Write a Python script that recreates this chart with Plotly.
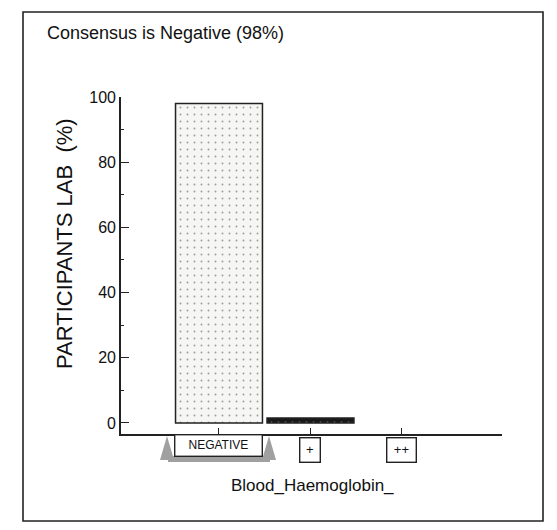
import plotly.graph_objects as go

categories = ["NEGATIVE", "+", "++"]
values = [98, 1.5, 0]
bar_colors = ["#f6f6f4", "#1a1a1a", "#1a1a1a"]
y_ticks = [0, 20, 40, 60, 80, 100]
y_minor = [10, 30, 50, 70, 90]
title_text = "Consensus is Negative (98%)"
x_title = "Blood_Haemoglobin_"
y_title = "PARTICIPANTS LAB  (%)"

FONT = "Liberation Sans, Arial, sans-serif"
OFF = 8  # page body margin of the browser
W, H = 557 - 2 * OFF, 530 - 2 * OFF
# layout positions given in window pixels, converted to figure pixels
L, R, T, B = 121 - OFF, 502 - OFF, 97 - OFF, 434 - OFF
PW, PH = R - L, B - T


def px(x):
    return (x - OFF - L) / PW


def py(y):
    return (B - (y - OFF)) / PH


fig = go.Figure()
fig.add_trace(go.Bar(
    x=categories, y=values,
    marker=dict(color=bar_colors, line=dict(color="#222", width=[1.5, 1.5, 0]),
                pattern=dict(shape=".", fgcolor="#dadada", size=7, solidity=0.06)),
    width=0.95,
))

annotations = [
    dict(text=title_text, xref="paper", yref="paper", x=px(45), y=py(33),
         xanchor="left", yanchor="middle", showarrow=False,
         font=dict(family=FONT, size=18, color="#111")),
    dict(text=x_title, xref="paper", yref="paper", x=px(312), y=py(485),
         xanchor="center", yanchor="middle", showarrow=False,
         font=dict(family=FONT, size=17, color="#111")),
    dict(text=y_title, xref="paper", yref="paper", x=px(64), y=py(244),
         xanchor="center", yanchor="middle", showarrow=False, textangle=-90,
         font=dict(family=FONT, size=22, color="#111")),
]
box_w = {"NEGATIVE": 84, "+": 17, "++": 26}
box_h = {"NEGATIVE": 18, "+": 21, "++": 21}
box_top = {"NEGATIVE": 434, "+": 437, "++": 437}
for c in categories:
    annotations.append(dict(
        text=c, xref="x", yref="paper", x=c, y=py(box_top[c]), yanchor="top",
        showarrow=False, bordercolor="#222", borderwidth=1.4, borderpad=1,
        width=box_w[c], height=box_h[c],
        bgcolor="white", font=dict(family=FONT, size=12 if c == "NEGATIVE" else 13, color="#111"),
    ))

shapes = [
    # outer frame
    dict(type="rect", xref="paper", yref="paper",
         x0=px(23), x1=px(543), y0=py(521), y1=py(12),
         line=dict(color="#222", width=1.6), layer="below"),
    # grey selection marks around the first category label
    dict(type="path", xref="paper", yref="paper",
         path=f"M {px(160)},{py(460)} L {px(167)},{py(436)} L {px(174)},{py(460)} Z",
         fillcolor="#a0a0a0", line=dict(width=0)),
    dict(type="path", xref="paper", yref="paper",
         path=f"M {px(262)},{py(460)} L {px(269)},{py(436)} L {px(276)},{py(460)} Z",
         fillcolor="#a0a0a0", line=dict(width=0)),
    dict(type="rect", xref="paper", yref="paper",
         x0=px(168), x1=px(270), y0=py(462), y1=py(456),
         fillcolor="#a0a0a0", line=dict(width=0)),
]

fig.update_layout(
    width=W, height=H,
    margin=dict(l=L, r=W - R, t=T, b=H - B),
    paper_bgcolor="white", plot_bgcolor="white",
    showlegend=False,
    font=dict(family=FONT, color="#111"),
    annotations=annotations,
    shapes=shapes,
)
fig.update_xaxes(
    range=[-1.071, 3.093], showline=True, linecolor="#222", linewidth=1.6,
    ticks="inside", ticklen=6, tickcolor="#222", showticklabels=False,
    showgrid=False, zeroline=False, automargin=False,
)
fig.update_yaxes(
    range=[-3.4, 100], tickvals=y_ticks, showline=True, linecolor="#222", linewidth=1.6,
    ticks="inside", ticklen=8, tickcolor="#222", tickfont=dict(family=FONT, size=16),
    minor=dict(tickvals=y_minor, ticks="inside", ticklen=3, tickcolor="#222"),
    showgrid=False, zeroline=False, automargin=False,
)
fig.write_html("out.html")
